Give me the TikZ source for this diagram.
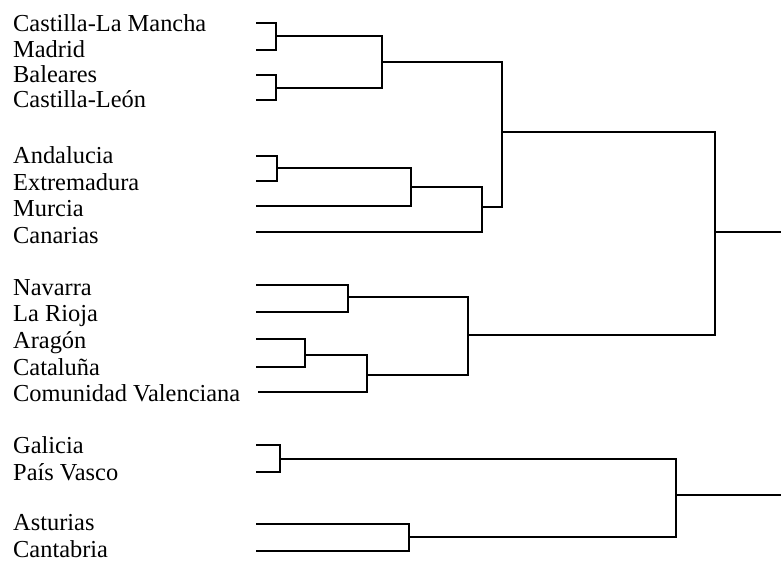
\documentclass[tikz,border=0pt]{standalone}
\usepackage{fontspec}
\setmainfont{Liberation Serif}

\begin{document}
\begin{tikzpicture}[x=1pt,y=-1pt,
  lab/.style={font=\fontsize{24.4}{27}\selectfont,text=black,anchor=base west,inner sep=0pt},
  link/.style={black,line width=2pt}]
\useasboundingbox (0,0) rectangle (781,562);

% region names
\node[lab] (clm) at (13,31) {Castilla-La Mancha};
\node[lab] (mad) at (13,57) {Madrid};
\node[lab] (bal) at (13,82) {Baleares};
\node[lab] (cyl) at (13,107) {Castilla-León};
\node[lab] (and) at (13,163) {Andalucia};
\node[lab] (ext) at (13,190) {Extremadura};
\node[lab] (mur) at (13,216) {Murcia};
\node[lab] (can) at (13,243) {Canarias};
\node[lab] (nav) at (13,295) {Navarra};
\node[lab] (rio) at (13,321) {La Rioja};
\node[lab] (ara) at (13,348) {Aragón};
\node[lab] (cat) at (13,375) {Cataluña};
\node[lab] (cva) at (13,401) {Comunidad Valenciana};
\node[lab] (gal) at (13,453) {Galicia};
\node[lab] (pva) at (13,480) {País Vasco};
\node[lab] (ast) at (13,530) {Asturias};
\node[lab] (cnt) at (13,557) {Cantabria};

% leaf ends
\coordinate (clm-l) at (256,23);
\coordinate (mad-l) at (256,50);
\coordinate (bal-l) at (256,75);
\coordinate (cyl-l) at (256,100);
\coordinate (and-l) at (256,156);
\coordinate (ext-l) at (256,181);
\coordinate (mur-l) at (256,206);
\coordinate (can-l) at (256,232);
\coordinate (nav-l) at (256,285);
\coordinate (rio-l) at (256,312);
\coordinate (ara-l) at (256,339);
\coordinate (cat-l) at (256,367);
\coordinate (cva-l) at (258,392);
\coordinate (gal-l) at (256,445);
\coordinate (pva-l) at (256,472);
\coordinate (ast-l) at (256,524);
\coordinate (cnt-l) at (256,551);

% joins
\coordinate (j1) at (276,36);
\coordinate (j2) at (276,88);
\coordinate (jA) at (382,62);
\coordinate (j3) at (277,168);
\coordinate (jB) at (411,187);
\coordinate (jC) at (482,207);
\coordinate (jD) at (502,132);
\coordinate (j4) at (348,297);
\coordinate (j5) at (305,355);
\coordinate (jE) at (367,375);
\coordinate (jF) at (468,335);
\coordinate (root1) at (715,232);
\coordinate (j6) at (280,459);
\coordinate (j7) at (409,537);
\coordinate (root2) at (676,495);
\coordinate (end1) at (781,232);
\coordinate (end2) at (781,495);

\draw[link] (clm-l) -| (j1) |- (mad-l);
\draw[link] (bal-l) -| (j2) |- (cyl-l);
\draw[link] (j1) -| (jA) |- (j2);
\draw[link] (and-l) -| (j3) |- (ext-l);
\draw[link] (j3) -| (jB) |- (mur-l);
\draw[link] (jB) -| (jC) |- (can-l);
\draw[link] (jA) -| (jD) |- (jC);

\draw[link] (nav-l) -| (j4) |- (rio-l);
\draw[link] (ara-l) -| (j5) |- (cat-l);
\draw[link] (j5) -| (jE) |- (cva-l);
\draw[link] (j4) -| (jF) |- (jE);

\draw[link] (jD) -| (root1) |- (jF);
\draw[link] (root1) -- (end1);

\draw[link] (gal-l) -| (j6) |- (pva-l);
\draw[link] (ast-l) -| (j7) |- (cnt-l);
\draw[link] (j6) -| (root2) |- (j7);
\draw[link] (root2) -- (end2);

\end{tikzpicture}
\end{document}
